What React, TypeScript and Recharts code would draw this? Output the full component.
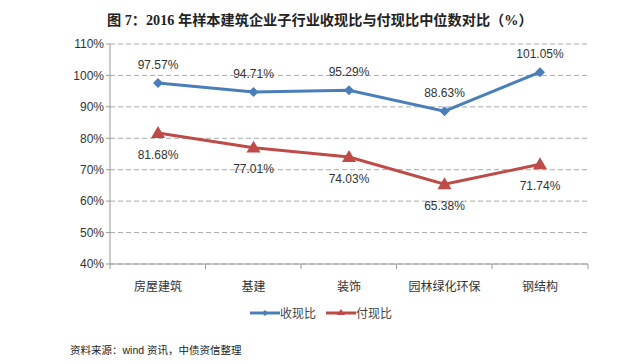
import React from "react";
import {
  LineChart,
  Line,
  XAxis,
  YAxis,
  CartesianGrid,
  LabelList,
} from "recharts";

const categories = ["房屋建筑", "基建", "装饰", "园林绿化环保", "钢结构"];
const collectRatio = [97.57, 94.71, 95.29, 88.63, 101.05];
const payRatio = [81.68, 77.01, 74.03, 65.38, 71.74];
const yTicks = [40, 50, 60, 70, 80, 90, 100, 110];

const BLUE = "#4a7ebb";
const RED = "#be4b48";
const FONT = '"Liberation Sans", "Noto Sans CJK SC", sans-serif';

const data = categories.map((name, i) => ({
  name,
  collect: collectRatio[i],
  pay: payRatio[i],
}));

const Diamond = (props: any) => {
  const { cx, cy } = props;
  if (cx == null || cy == null) return null;
  const r = 5;
  return (
    <path
      d={`M${cx},${cy - r}L${cx + r},${cy}L${cx},${cy + r}L${cx - r},${cy}Z`}
      fill={BLUE}
    />
  );
};

const Triangle = (props: any) => {
  const { cx, cy } = props;
  if (cx == null || cy == null) return null;
  const r = 7;
  return (
    <path
      d={`M${cx},${cy - r}L${cx + r},${cy + r * 0.7}L${cx - r},${cy + r * 0.7}Z`}
      fill={RED}
    />
  );
};

// category label plus the small divider ticks between categories
const CategoryTick = (props: any) => {
  const { x, y, payload, index, visibleTicksCount } = props;
  const axisY = y - 18;
  const half = 48;
  return (
    <g>
      <line x1={x - half} y1={axisY} x2={x - half} y2={axisY + 5} stroke="#999" />
      {index === visibleTicksCount - 1 && (
        <line x1={x + half} y1={axisY} x2={x + half} y2={axisY + 5} stroke="#999" />
      )}
      <text
        x={x}
        y={y}
        dy="0.71em"
        textAnchor="middle"
        fill="#333"
        fontSize={12}
        fontFamily={FONT}
      >
        {payload.value}
      </text>
    </g>
  );
};

const LegendBox = () => (
  <div
    style={{
      position: "absolute",
      left: 250,
      top: 304,
      display: "flex",
      fontFamily: FONT,
      fontSize: 12,
      color: "#444",
    }}
  >
    <span style={{ display: "flex", alignItems: "center", marginRight: 10 }}>
      <svg width={30} height={10}>
        <line x1={0} y1={5} x2={30} y2={5} stroke={BLUE} strokeWidth={3} />
        <path d="M15,2L18,5L15,8L12,5Z" fill={BLUE} />
      </svg>
      收现比
    </span>
    <span style={{ display: "flex", alignItems: "center" }}>
      <svg width={30} height={10}>
        <line x1={0} y1={5} x2={30} y2={5} stroke={RED} strokeWidth={3} />
        <path d="M15,1L19,7L11,7Z" fill={RED} />
      </svg>
      付现比
    </span>
  </div>
);

const App = () => {
  return (
    <div
      style={{
        position: "absolute",
        left: 0,
        top: 0,
        width: 640,
        height: 364,
        background: "#fff",
      }}
    >
      <div
        style={{
          position: "absolute",
          left: 107,
          top: 9,
          fontFamily: '"Liberation Serif", "Noto Sans CJK SC", serif',
          fontWeight: "bold",
          fontSize: 14.2,
          color: "#222",
          whiteSpace: "nowrap",
        }}
      >
        图 7：2016 年样本建筑企业子行业收现比与付现比中位数对比（%）
      </div>
      <LineChart
        width={640}
        height={364}
        data={data}
        margin={{ top: 44, right: 52, bottom: 70, left: 50 }}
      >
        <CartesianGrid
          vertical={false}
          stroke="#aaa"
          strokeDasharray="5 3"
        />
        <XAxis
          dataKey="name"
          padding={{ left: 48, right: 48 }}
          axisLine={{ stroke: "#999" }}
          tickLine={false}
          tick={<CategoryTick />}
          tickMargin={12}
        />
        <YAxis
          width={60}
          domain={[40, 110]}
          ticks={yTicks}
          interval={0}
          tickFormatter={(v: number) => `${v}%`}
          axisLine={{ stroke: "#999" }}
          tickLine={{ stroke: "#999" }}
          tickSize={4}
          tick={{ fill: "#333", fontSize: 12, fontFamily: FONT }}
        />
        <Line
          dataKey="collect"
          stroke={BLUE}
          strokeWidth={3}
          dot={<Diamond />}
          activeDot={false}
          isAnimationActive={false}
        >
          <LabelList
            dataKey="collect"
            position="top"
            offset={14}
            formatter={(v: any) => `${Number(v).toFixed(2)}%`}
            style={{ fill: "#333", fontSize: 12, fontFamily: FONT }}
          />
        </Line>
        <Line
          dataKey="pay"
          stroke={RED}
          strokeWidth={3}
          dot={<Triangle />}
          activeDot={false}
          isAnimationActive={false}
        >
          <LabelList
            dataKey="pay"
            position="bottom"
            offset={17}
            formatter={(v: any) => `${Number(v).toFixed(2)}%`}
            style={{ fill: "#333", fontSize: 12, fontFamily: FONT }}
          />
        </Line>
      </LineChart>
      <LegendBox />
      <div
        style={{
          position: "absolute",
          left: 70,
          top: 342,
          fontFamily: FONT,
          fontSize: 10.5,
          color: "#222",
          whiteSpace: "nowrap",
        }}
      >
        资料来源：wind 资讯，中债资信整理
      </div>
    </div>
  );
};

export default App;
